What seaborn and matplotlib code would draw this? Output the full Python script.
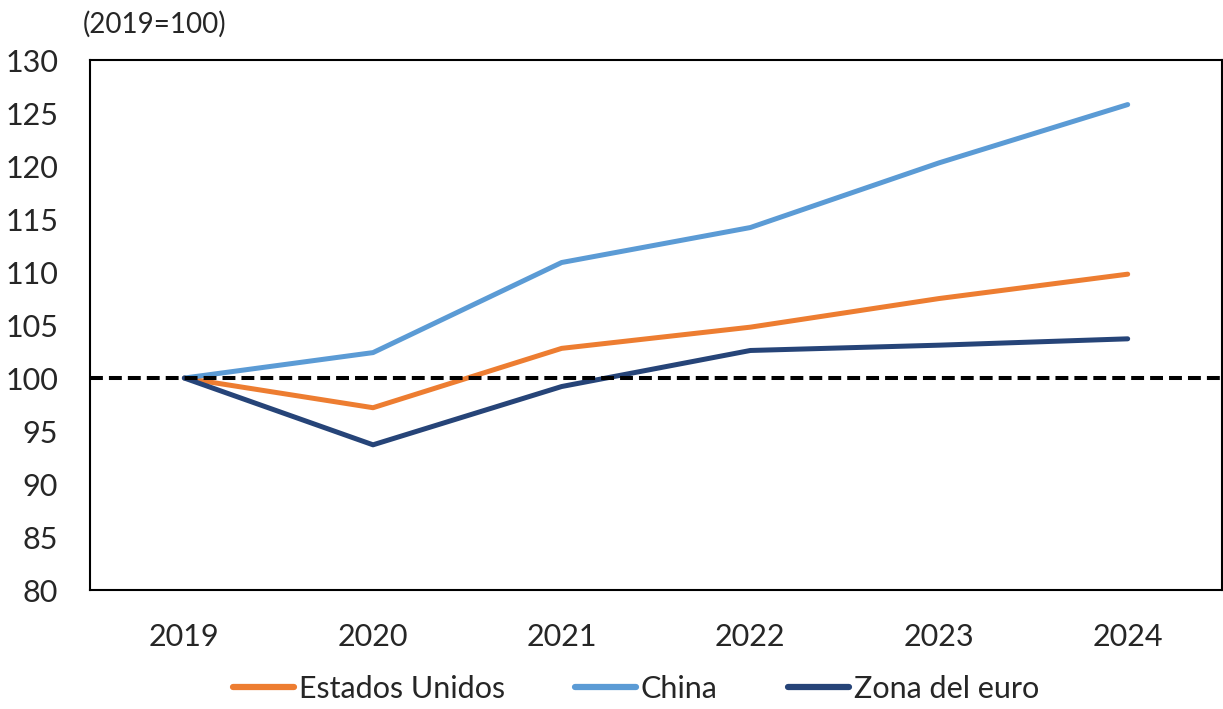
import pandas as pd
import numpy as np
import seaborn as sns
import matplotlib.pyplot as plt

years = ["2019", "2020", "2021", "2022", "2023", "2024"]
estados_unidos = [100, 97.2, 102.8, 104.8, 107.5, 109.8]
china = [100, 102.4, 110.9, 114.2, 120.3, 125.8]
zona_euro = [100, 93.7, 99.2, 102.6, 103.1, 103.7]

series_names = ["Estados Unidos", "China", "Zona del euro"]
colors = ["#ED7D31", "#5B9BD5", "#264478"]

sns.set_style("white")
plt.rcParams["font.family"] = ["Lato", "DejaVu Sans"]

df = pd.DataFrame({
    "pos": list(range(len(years))) * 3,
    "valor": estados_unidos + china + zona_euro,
    "serie": np.repeat(series_names, len(years)),
})

fig = plt.figure(figsize=(12.23, 7.09), dpi=100)
ax = fig.add_axes([0.0736, 0.1678, 0.9256, 0.7475])

sns.lineplot(data=df, x="pos", y="valor", hue="serie", hue_order=series_names,
             palette=colors, linewidth=3.6, ax=ax, legend=False)
ax.axhline(100, color="black", linestyle=(0, (3.2, 1.5)), linewidth=2.9, zorder=5)

ax.set_xlim(-0.5, len(years) - 0.5)
ax.set_ylim(80, 130)
ax.set_yticks(np.arange(80, 131, 5))
ax.set_xticks(range(len(years)))
ax.set_xticklabels(years)
ax.tick_params(axis="both", labelsize=22, length=0)
ax.tick_params(axis="x", pad=24)
ax.tick_params(axis="y", pad=23)
ax.set_xlabel("")
ax.set_ylabel("")
for s in ax.spines.values():
    s.set_color("black")
    s.set_linewidth(1.5)

fig.text(0.068, 0.947, "(2019=100)", fontsize=20, ha="left", va="bottom")

handles = [plt.Line2D([], [], color=c, linewidth=4.5, solid_capstyle="round") for c in colors]
fig.legend(handles, series_names, loc="lower center", bbox_to_anchor=(0.52, -0.03),
           ncol=3, frameon=False, fontsize=22, handlelength=2.0, handletextpad=0.15,
           columnspacing=2.3)

fig.savefig("out.png", dpi=100)
plt.close(fig)
